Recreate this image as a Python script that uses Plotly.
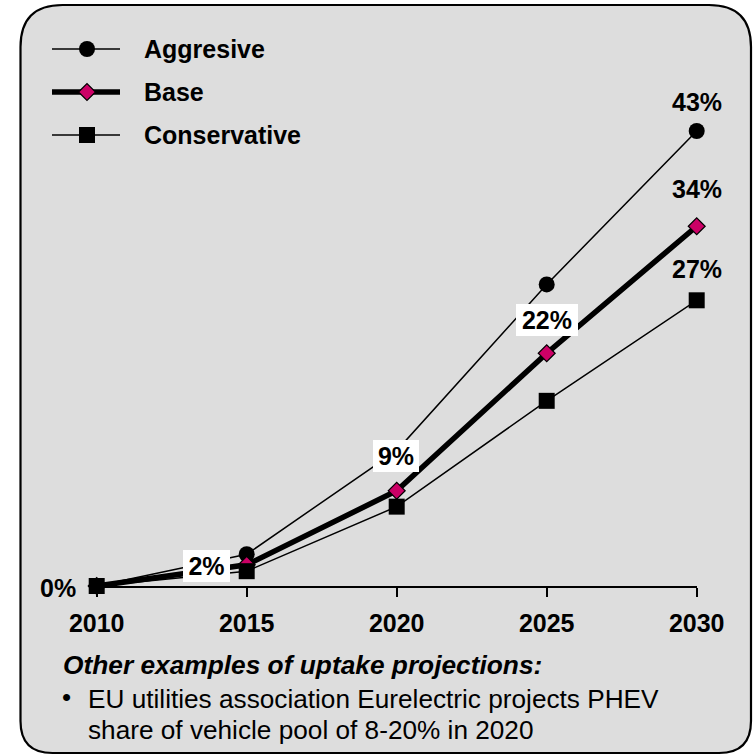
import plotly.graph_objects as go

# ---- data ----
years = [2010, 2015, 2020, 2025, 2030]
aggressive = [0, 3.0, 12.8, 28.5, 43]
base = [0, 2, 9, 22, 34]
conservative = [0, 1.4, 7.5, 17.5, 27]
series_names = ["Aggresive", "Base", "Conservative"]
tick_years = [2010, 2015, 2020, 2025, 2030]
footer_title = "Other examples of uptake projections:"
footer_lines = ["EU utilities association Eurelectric projects PHEV",
                "share of vehicle pool of 8-20% in 2020"]

W, H = 754, 755
FONT = "Liberation Sans, Arial, sans-serif"
MAGENTA = "#CC0066"
GRAY = "#DDDDDD"


def px(x):
    return x / W


def py(y):
    return 1 - y / H


fig = go.Figure()

fig.add_trace(go.Scatter(
    x=years, y=aggressive, mode="lines+markers", name=series_names[0],
    line=dict(color="black", width=1.5),
    marker=dict(symbol="circle", size=16, color="black"),
    cliponaxis=False, showlegend=False))
fig.add_trace(go.Scatter(
    x=years, y=base, mode="lines+markers", name=series_names[1],
    line=dict(color="black", width=5.5),
    marker=dict(symbol="diamond", size=13, color=MAGENTA,
                line=dict(color="black", width=1.2)),
    cliponaxis=False, showlegend=False))
fig.add_trace(go.Scatter(
    x=years, y=conservative, mode="lines+markers", name=series_names[2],
    line=dict(color="black", width=1.5),
    marker=dict(symbol="square", size=16, color="black"),
    cliponaxis=False, showlegend=False))

shapes = []

# rounded background panel
L, R, T, B = 20.5, 751, 5, 753
rt, rb = 42, 32
path = (f"M {px(L)},{py(T+rt)} Q {px(L)},{py(T)} {px(L+rt)},{py(T)} "
        f"L {px(R-rt)},{py(T)} Q {px(R)},{py(T)} {px(R)},{py(T+rt)} "
        f"L {px(R)},{py(B-rb)} Q {px(R)},{py(B)} {px(R-rb)},{py(B)} "
        f"L {px(L+rb)},{py(B)} Q {px(L)},{py(B)} {px(L)},{py(B-rb)} Z")
shapes.append(dict(type="path", xref="paper", yref="paper", path=path,
                   fillcolor=GRAY, line=dict(color="black", width=2.2),
                   layer="below"))

# manual legend
leg_y = [49, 92, 135]
leg_w = [1.5, 5.5, 1.5]
for yy, lw in zip(leg_y, leg_w):
    shapes.append(dict(type="line", xref="paper", yref="paper",
                       x0=px(52), x1=px(120), y0=py(yy), y1=py(yy),
                       line=dict(color="black", width=lw)))
cx = 87
shapes.append(dict(type="circle", xref="paper", yref="paper",
                   x0=px(cx-8), x1=px(cx+8), y0=py(leg_y[0]-8), y1=py(leg_y[0]+8),
                   fillcolor="black", line=dict(color="black", width=0)))
d = 8.5
shapes.append(dict(type="path", xref="paper", yref="paper",
                   path=(f"M {px(cx-d)},{py(leg_y[1])} L {px(cx)},{py(leg_y[1]-d)} "
                         f"L {px(cx+d)},{py(leg_y[1])} L {px(cx)},{py(leg_y[1]+d)} Z"),
                   fillcolor=MAGENTA, line=dict(color="black", width=1.2)))
shapes.append(dict(type="rect", xref="paper", yref="paper",
                   x0=px(cx-8), x1=px(cx+8), y0=py(leg_y[2]-8), y1=py(leg_y[2]+8),
                   fillcolor="black", line=dict(color="black", width=0)))

annotations = []
for name, yy in zip(series_names, leg_y):
    annotations.append(dict(xref="paper", yref="paper", x=px(142), y=py(yy),
                            xanchor="left", yanchor="middle", showarrow=False,
                            text=name,
                            font=dict(family=FONT, size=25, color="black", weight="bold")))

for vals, ys in zip([aggressive, base, conservative], [29, 37, 31]):
    annotations.append(dict(x=years[-1], y=vals[-1], xref="x", yref="y",
                            yshift=ys, showarrow=False, text=f"{vals[-1]:.0f}%",
                            font=dict(family=FONT, size=25, color="black", weight="bold")))

box_specs = {1: (-40, -1, 47), 2: (-1, 35, 46), 3: (0, 33, 62)}
for i, (xs, ys, wd) in box_specs.items():
    annotations.append(dict(x=years[i], y=base[i], xref="x", yref="y",
                            xshift=xs, yshift=ys, showarrow=False,
                            text=f"{base[i]:.0f}%", bgcolor="white",
                            width=wd, height=32, borderpad=0, borderwidth=0,
                            font=dict(family=FONT, size=25, color="black", weight="bold")))
annotations.append(dict(x=years[0], y=base[0], xref="x", yref="y",
                        xshift=-39, yshift=-1.5, showarrow=False,
                        text=f"{base[0]:.0f}%",
                        font=dict(family=FONT, size=25, color="black", weight="bold")))

annotations.append(dict(xref="paper", yref="paper", x=px(61), y=py(665),
                        xanchor="left", yanchor="middle", showarrow=False,
                        text=f"<b><i>{footer_title}</i></b>",
                        font=dict(family=FONT, size=26.3, color="black")))
annotations.append(dict(xref="paper", yref="paper", x=px(66.5), y=py(697),
                        xanchor="center", yanchor="middle", showarrow=False,
                        text="•", font=dict(family=FONT, size=26, color="black")))
for line, yy in zip(footer_lines, [698.5, 729.5]):
    annotations.append(dict(xref="paper", yref="paper", x=px(85.5), y=py(yy),
                            xanchor="left", yanchor="middle", showarrow=False,
                            text=line, font=dict(family=FONT, size=26.2, color="black")))

fig.update_layout(
    width=W, height=H, autosize=False,
    margin=dict(l=0, r=0, t=0, b=0, pad=0, autoexpand=False),
    paper_bgcolor="white", plot_bgcolor="rgba(0,0,0,0)",
    shapes=shapes, annotations=annotations,
    xaxis=dict(domain=[px(96.7), px(696.7)], range=[2010, 2030],
               tickvals=tick_years, ticktext=[str(t) for t in tick_years],
               ticks="outside", ticklen=9, tickwidth=1.5, tickcolor="black",
               showline=True, linecolor="black", linewidth=2,
               showgrid=False, zeroline=False, automargin=False,
               tickfont=dict(family=FONT, size=25, color="black", weight="bold"),
               ticklabelstandoff=5),
    yaxis=dict(domain=[py(586), py(131)], range=[0, 43], visible=False,
               showgrid=False, zeroline=False, automargin=False),
)

fig.write_html("out.html", config={"responsive": False, "displayModeBar": False},
               post_script="document.body.style.margin='0px';document.body.style.padding='0px';")
